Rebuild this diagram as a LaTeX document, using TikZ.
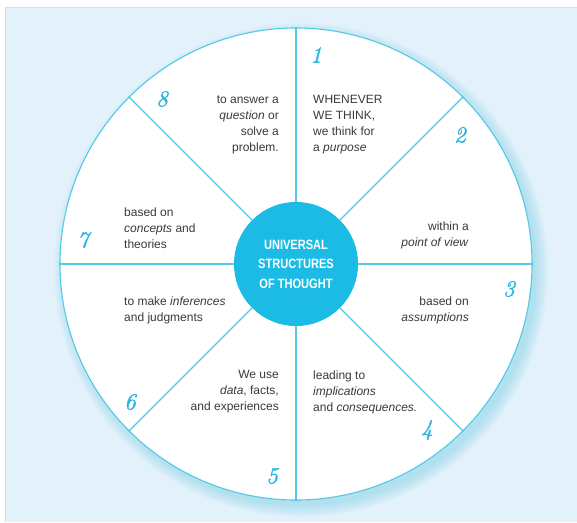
\documentclass[tikz,border=0pt]{standalone}
\usepackage{fontspec}
\setmainfont{Liberation Sans}
\newfontfamily\condfont[FakeStretch=0.82]{Liberation Sans}
\newfontfamily\numfont[FakeBold=1.6]{Latin Modern Roman}
\definecolor{bgc}{HTML}{E3F2FA}
\definecolor{bgline}{HTML}{C4E6F4}
\definecolor{linec}{HTML}{55C8E8}
\definecolor{hubc}{HTML}{1CBBE6}
\definecolor{numc}{HTML}{2BB5E4}
\definecolor{txtc}{HTML}{3A3A3A}
\begin{document}
\begin{tikzpicture}[x=1pt,y=-1pt,
  txt/.style={font=\fontsize{12}{16}\selectfont, text=txtc, inner sep=0pt},
  lft/.style={txt, align=left, anchor=west},
  rgt/.style={txt, align=right, anchor=east},
  num/.style={font=\numfont\itshape\fontsize{23}{23}\selectfont, text=numc, inner sep=0pt},
  spoke/.style={draw=linec, line width=1.1pt}]
\useasboundingbox (0,0) rectangle (577,522);
\fill[bgc] (5,7) rectangle (577,522);
\draw[bgline, line width=0.8pt] (5,522) -- (5,7) -- (577,7);
% soft shadow
\foreach \i in {1,...,12}
  \fill[linec, opacity=0.03] (301,270) circle [radius={234pt+\i*1.1pt}];
% wheel
\node[circle, draw=linec, fill=white, line width=1.1pt, minimum size=472pt, inner sep=0pt] (wheel) at (296,264) {};
\node[circle, fill=hubc, minimum size=124pt, inner sep=0pt, text=white,
      font=\condfont\bfseries\fontsize{13.5}{19.5}\selectfont, align=center] (hub) at (296,264) {UNIVERSAL\\STRUCTURES\\OF THOUGHT};
\foreach \a in {0,45,...,315}
  \draw[spoke] (hub.\a) -- (wheel.\a);
% texts
\node[lft] (t1) at (313,125) {WHENEVER\\WE THINK,\\we think for\\a \textit{purpose}};
\node[rgt] (t8) at (279,125) {to answer a\\\textit{question} or\\solve a\\problem.};
\node[rgt] (t2) at (469,235) {within a\\\textit{point of view}};
\node[rgt] (t3) at (469,310) {based on\\\textit{assumptions}};
\node[lft] (t4) at (313,392) {leading to\\\textit{implications}\\and \textit{consequences.}};
\node[rgt] (t5) at (279,392) {We use\\\textit{data}, facts,\\and experiences};
\node[lft] (t6) at (124,310) {to make \textit{inferences}\\and judgments};
\node[lft] (t7) at (124,228) {based on\\\textit{concepts} and\\theories};
% numbers
\node[num] (n1) at (316,55) {1};
\node[num] (n2) at (460,135) {2};
\node[num] (n3) at (509,289) {3};
\node[num] (n4) at (427,430) {4};
\node[num] (n5) at (272,476) {5};
\node[num] (n6) at (130,402) {6};
\node[num] (n7) at (83,240) {7};
\node[num] (n8) at (162,99) {8};
\end{tikzpicture}
\end{document}
